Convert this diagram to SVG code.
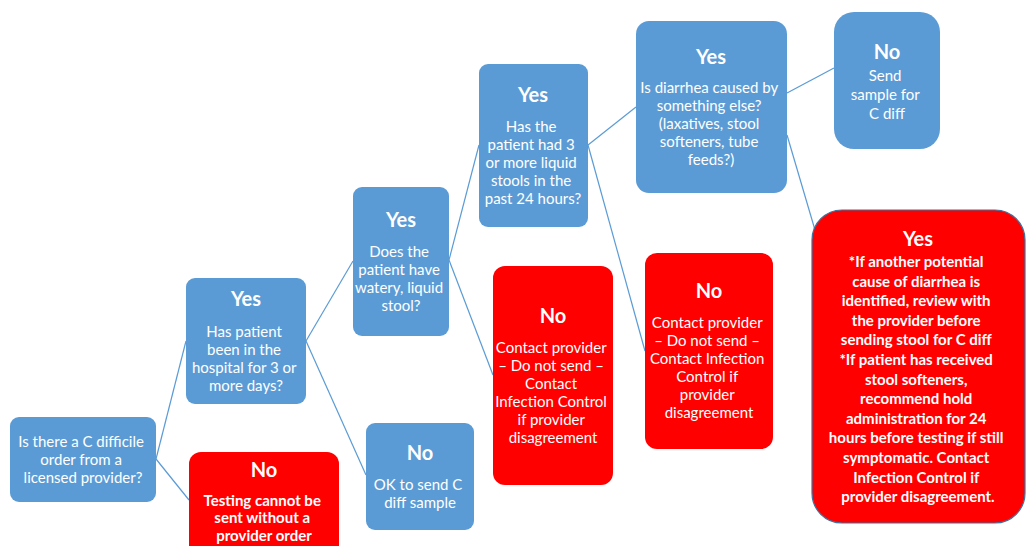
<svg xmlns="http://www.w3.org/2000/svg" width="1029" height="546" viewBox="0 0 1029 546">
  <style>
    .blue { fill: #5b9bd5; }
    .red { fill: #ff0000; }
    .t { font-family: Lato, "Liberation Sans", sans-serif; fill: #ffffff; text-anchor: middle; font-size: 15px; }
    .h { font-weight: bold; font-size: 20px; }
    .b { font-weight: bold; }
    .link { stroke: #5b9bd5; stroke-width: 1.2; fill: none; }
  </style>
  <rect width="1029" height="546" fill="#ffffff"/>

  <g id="connectors">
    <line class="link" x1="156" y1="459" x2="186" y2="341"/>
    <line class="link" x1="156" y1="459" x2="189" y2="500"/>
    <line class="link" x1="306" y1="341" x2="353" y2="261"/>
    <line class="link" x1="306" y1="341" x2="366" y2="475"/>
    <line class="link" x1="449" y1="260" x2="479" y2="145"/>
    <line class="link" x1="449" y1="260" x2="493" y2="375"/>
    <line class="link" x1="588" y1="145" x2="636" y2="107"/>
    <line class="link" x1="588" y1="145" x2="645" y2="351"/>
    <line class="link" x1="787" y1="93" x2="834" y2="68"/>
    <line class="link" x1="787" y1="135" x2="815" y2="230"/>
  </g>

  <g id="start">
    <rect class="blue" x="10" y="417" width="146" height="85" rx="9"/>
    <text class="t">
      <tspan x="83" y="447">Is there a C difficile</tspan>
      <tspan x="83" y="465">order from a</tspan>
      <tspan x="83" y="483">licensed provider?</tspan>
    </text>
  </g>

  <g id="no-order">
    <rect class="red" x="189" y="452" width="150" height="110" rx="12"/>
    <text class="t"><tspan class="h" x="264" y="477">No</tspan></text>
    <text class="t b">
      <tspan x="264" y="506">Testing cannot be</tspan>
      <tspan x="264" y="523">sent without a</tspan>
      <tspan x="264" y="541">provider order</tspan>
    </text>
  </g>

  <g id="hospital-days">
    <rect class="blue" x="186" y="278" width="120" height="126" rx="9"/>
    <text class="t"><tspan class="h" x="246" y="306">Yes</tspan></text>
    <text class="t">
      <tspan x="246" y="337">Has patient</tspan>
      <tspan x="246" y="355">been in the</tspan>
      <tspan x="246" y="373">hospital for 3 or</tspan>
      <tspan x="246" y="391">more days?</tspan>
    </text>
  </g>

  <g id="ok-to-send">
    <rect class="blue" x="366" y="423" width="108" height="107" rx="9"/>
    <text class="t"><tspan class="h" x="420" y="460">No</tspan></text>
    <text class="t">
      <tspan x="420" y="490">OK to send C</tspan>
      <tspan x="420" y="508">diff sample</tspan>
    </text>
  </g>

  <g id="watery-stool">
    <rect class="blue" x="353" y="187" width="96" height="149" rx="9"/>
    <text class="t"><tspan class="h" x="401" y="227">Yes</tspan></text>
    <text class="t">
      <tspan x="401" y="257">Does the</tspan>
      <tspan x="401" y="275">patient have</tspan>
      <tspan x="401" y="293">watery, liquid</tspan>
      <tspan x="401" y="311">stool?</tspan>
    </text>
  </g>

  <g id="no-watery">
    <rect class="red" x="493" y="266" width="120" height="219" rx="12"/>
    <text class="t"><tspan class="h" x="553" y="323">No</tspan></text>
    <text class="t">
      <tspan x="553" y="353">Contact provider</tspan>
      <tspan x="553" y="371">– Do not send –</tspan>
      <tspan x="553" y="389">Contact</tspan>
      <tspan x="553" y="407">Infection Control</tspan>
      <tspan x="553" y="425">if provider</tspan>
      <tspan x="553" y="443">disagreement</tspan>
    </text>
  </g>

  <g id="three-stools">
    <rect class="blue" x="479" y="64" width="109" height="163" rx="9"/>
    <text class="t"><tspan class="h" x="533" y="102">Yes</tspan></text>
    <text class="t">
      <tspan x="533" y="132">Has the</tspan>
      <tspan x="533" y="150">patient had 3</tspan>
      <tspan x="533" y="168">or more liquid</tspan>
      <tspan x="533" y="186">stools in the</tspan>
      <tspan x="533" y="204">past 24 hours?</tspan>
    </text>
  </g>

  <g id="no-three-stools">
    <rect class="red" x="645" y="253" width="128" height="196" rx="12"/>
    <text class="t"><tspan class="h" x="709" y="298">No</tspan></text>
    <text class="t">
      <tspan x="709" y="328">Contact provider</tspan>
      <tspan x="709" y="346">– Do not send –</tspan>
      <tspan x="709" y="364">Contact Infection</tspan>
      <tspan x="709" y="382">Control if</tspan>
      <tspan x="709" y="400">provider</tspan>
      <tspan x="709" y="418">disagreement</tspan>
    </text>
  </g>

  <g id="other-cause">
    <rect class="blue" x="636" y="21" width="151" height="172" rx="13"/>
    <text class="t"><tspan class="h" x="711" y="64">Yes</tspan></text>
    <text class="t">
      <tspan x="711" y="93">Is diarrhea caused by</tspan>
      <tspan x="711" y="111">something else?</tspan>
      <tspan x="711" y="129">(laxatives, stool</tspan>
      <tspan x="711" y="147">softeners, tube</tspan>
      <tspan x="711" y="165">feeds?)</tspan>
    </text>
  </g>

  <g id="send-sample">
    <rect class="blue" x="834" y="12" width="106" height="137" rx="20"/>
    <text class="t"><tspan class="h" x="887" y="59">No</tspan></text>
    <text class="t">
      <tspan x="887" y="81">Send</tspan>
      <tspan x="887" y="100">sample for</tspan>
      <tspan x="887" y="119">C diff</tspan>
    </text>
  </g>

  <g id="review-cause">
    <rect class="red" x="812" y="210" width="213" height="313" rx="30" stroke="#41719c" stroke-width="1.2"/>
    <text class="t"><tspan class="h" x="918" y="246">Yes</tspan></text>
    <text class="t b">
      <tspan x="918" y="267">*If another potential</tspan>
      <tspan x="918" y="286.6">cause of diarrhea is</tspan>
      <tspan x="918" y="306.2">identified, review with</tspan>
      <tspan x="918" y="325.8">the provider before</tspan>
      <tspan x="918" y="345.4">sending stool for C diff</tspan>
      <tspan x="918" y="365">*If patient has received</tspan>
      <tspan x="918" y="384.6">stool softeners,</tspan>
      <tspan x="918" y="404.2">recommend hold</tspan>
      <tspan x="918" y="423.8">administration for 24</tspan>
      <tspan x="918" y="443.4">hours before testing if still</tspan>
      <tspan x="918" y="463">symptomatic. Contact</tspan>
      <tspan x="918" y="482.6">Infection Control if</tspan>
      <tspan x="918" y="502.2">provider disagreement.</tspan>
    </text>
  </g>
</svg>
